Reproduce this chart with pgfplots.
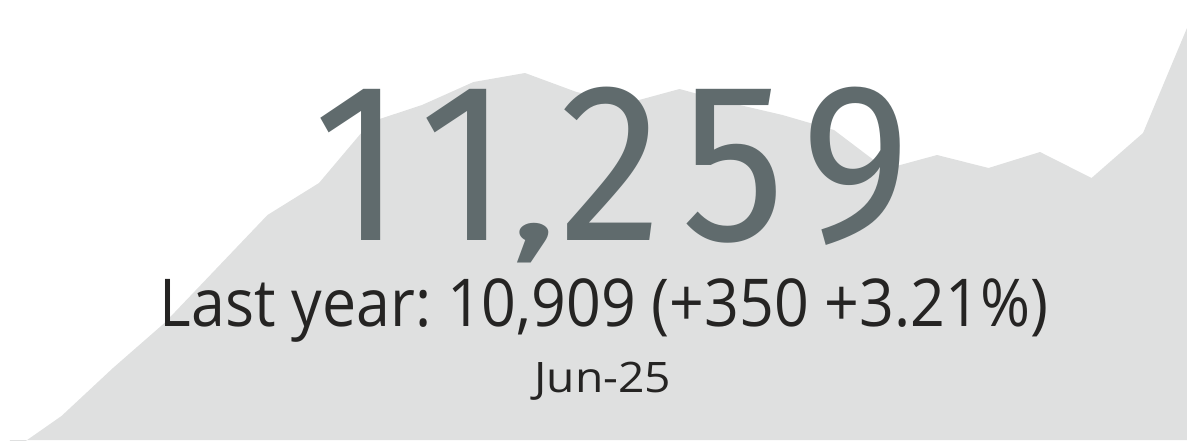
\documentclass[border=0pt]{standalone}
\usepackage{pgfplots}
\pgfplotsset{compat=1.18}
\usepackage{fontspec}
\setmainfont{Open Sans}
\newfontfamily\bignum[FakeStretch=0.92, LetterSpace=8.4]{Fira Sans}
\newfontfamily\subfont[FakeStretch=0.922]{Open Sans}
\newfontfamily\datefont[FakeStretch=1.1]{Open Sans}
\definecolor{areagray}{RGB}{223,224,224}
\definecolor{numgray}{RGB}{96,107,109}
\definecolor{txtdark}{RGB}{37,36,35}

\pgfplotstableread{
k h
0 -12
1 24
2 72
3 117
4 171
5 225
6 257
7 318
8 335
9 358
10 367
11 348
12 337
13 351
14 337
15 325
16 310
17 271
18 285
19 272
20 288
21 262
22 307
23 430
}\trend

\begin{document}
\frenchspacing
\begin{tikzpicture}
\begin{axis}[
  scale only axis, width=593.5pt, height=220pt,
  hide axis,
  xmin=-0.194, xmax=22.854,
  ymin=0, ymax=440,
  clip=true
]
\addplot[fill=areagray, draw=none] table[x=k, y=h] {\trend} \closedcycle;
\node[anchor=base, text=numgray, font=\bignum\fontsize{113}{113}\selectfont, inner sep=0pt]
  at (rel axis cs:0.5156,0.4545) {11\scalebox{1}[0.6]{,}259};
\node[anchor=base, text=txtdark, font=\subfont\fontsize{33}{33}\selectfont, inner sep=0pt]
  at (rel axis cs:0.509,0.257) {Last year: 10,909 (+350 +3.21\%)};
\node[anchor=base, text=txtdark, font=\datefont\fontsize{21}{21}\selectfont, inner sep=0pt]
  at (rel axis cs:0.508,0.109) {Jun-25};
\end{axis}
\pgfresetboundingbox
\path (current axis.south west) rectangle (current axis.north east);
\end{tikzpicture}
\end{document}
